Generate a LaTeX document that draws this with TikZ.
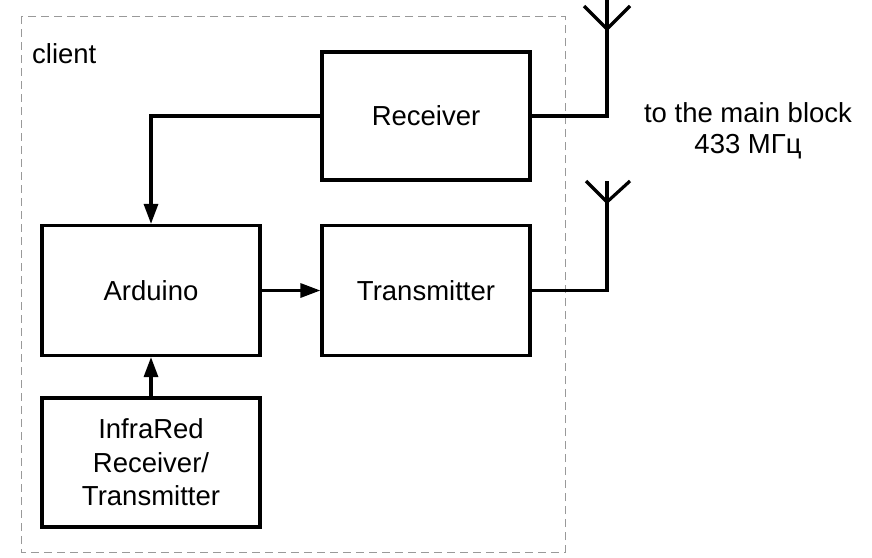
\documentclass[tikz,border=0pt]{standalone}
\usepackage{fontspec}
\setmainfont{Liberation Sans}
\usetikzlibrary{arrows.meta}
\begin{document}
\begin{tikzpicture}[x=1pt,y=-1pt,
  blockbox/.style={draw=black,line width=3.2pt,minimum width=218pt,minimum height=130pt,inner sep=0pt,
    font=\fontsize{27.5}{33.5}\selectfont,align=center},
  conn/.style={line width=3.2pt},
  arr/.style={conn,-{Triangle[length=20pt,width=14pt]}},
  lbl/.style={font=\fontsize{27.5}{31}\selectfont,align=center}]
\useasboundingbox (0,0) rectangle (872,557);
\clip (0,0) rectangle (872,557);
\fill[white] (0,0) rectangle (872,557);
% client border
\draw[gray!80,line width=1pt,dash pattern=on 8pt off 5pt] (21,16) rectangle (565,552);
\node[lbl,anchor=base west,inner sep=0pt] (client) at (32,63) {client};
% blocks
\node[blockbox,minimum width=208pt,minimum height=128pt] (rec) at (426,116) {Receiver};
\node[blockbox] (ard) at (151,290.5) {Arduino};
\node[blockbox,minimum width=208pt] (tx) at (426,290.5) {Transmitter};
\node[blockbox,minimum height=129pt] (ir) at (151,462.5) {InfraRed\\Receiver/\\Transmitter};
% connectors
\draw[arr] (rec.west) -| (ard.north);
\draw[arr] (ard.east) -- (tx.west);
\draw[arr] (ir.north) -- (ard.south);
% antennas
\coordinate (a1) at (607,29);
\coordinate (a2) at (607,202);
\draw[conn] (rec.east) -| (a1);
\draw[conn] (a1) -- ++(0,-35);
\draw[conn] (a1) -- ++(-23,-23);
\draw[conn] (a1) -- ++(23,-23);
\draw[conn] (tx.east) -| (a2);
\draw[conn] (a2) -- ++(0,-21);
\draw[conn] (a2) -- ++(-21,-21);
\draw[conn] (a2) -- ++(23,-21);
% label
\node[lbl,anchor=base,inner sep=0pt] (main) at (748,153) {to the main block\\433 МГц};
\end{tikzpicture}
\end{document}
